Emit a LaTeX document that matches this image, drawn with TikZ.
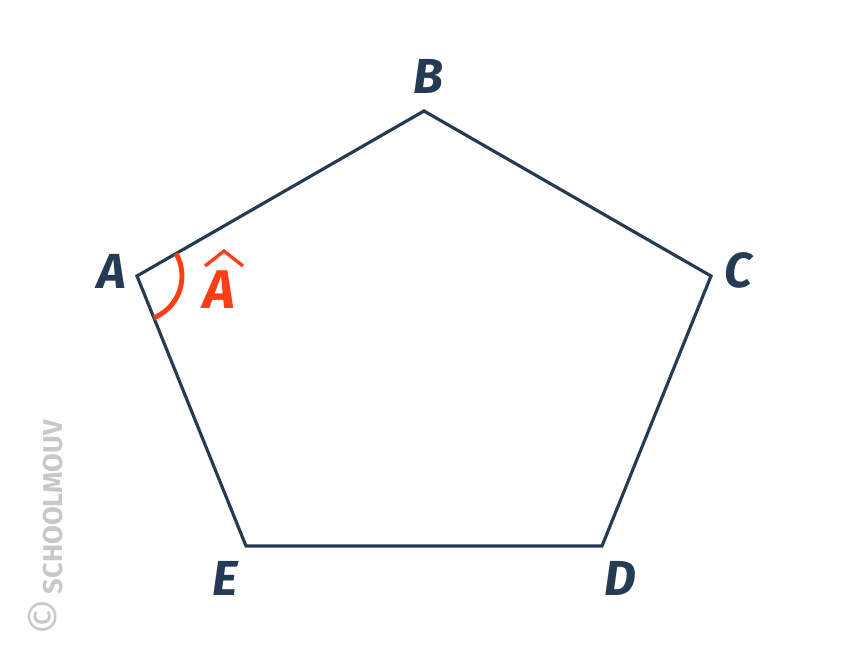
\documentclass[tikz,border=0pt]{standalone}
\usepackage{fontspec}
\setmainfont{Fira Sans}
\definecolor{navy}{HTML}{243B53}
\definecolor{anglered}{HTML}{FF3D17}
\definecolor{markgray}{HTML}{C8C8C8}
\tikzset{
	side/.style={draw=navy, line width=1.8pt, line join=miter},
	vlabel/.style={text=navy, font=\fontsize{28}{32}\selectfont\bfseries\itshape, inner sep=0pt},
	anglearc/.style={draw=anglered, line width=2.8pt},
	anglelabel/.style={text=anglered, font=\fontsize{31}{34}\selectfont\bfseries\itshape, inner sep=0pt},
	hatline/.style={draw=anglered, line width=1.9pt, line join=miter},
	watermark/.style={text=markgray, font=\fontsize{15.5}{18}\selectfont\bfseries, rotate=90, inner sep=0pt}
}
\begin{document}
\begin{tikzpicture}[x=0.02cm, y=0.02cm]
		\useasboundingbox ( 0, 0 ) rectangle ( 860, 660 );

		% sommets du pentagone
		\coordinate (A) at ( 137, 384 );
		\coordinate (B) at ( 424, 549 );
		\coordinate (C) at ( 711, 384 );
		\coordinate (D) at ( 602, 114 );
		\coordinate (E) at ( 246, 114 );

		% pentagone
		\draw [side] (A) -- (B) -- (C) -- (D) -- (E) -- cycle;

		% noms des sommets
		\node [vlabel] (labA) at ( 112, 389 ) {A};
		\node [vlabel] (labB) at ( 428, 584 ) {B};
		\node [vlabel] (labC) at ( 738, 390 ) {C};
		\node [vlabel] (labD) at ( 620, 82 ) {D};
		\node [vlabel] (labE) at ( 225, 82 ) {E};

		% angle en A
		\draw [anglearc] ([shift={(30:45)}]A) arc [start angle=30, end angle=-68, radius=45];
		\node [anglelabel] (angA) at ( 219, 370 ) {A};
		\draw [hatline] ([shift={(-14,24)}]angA.center) -- ([shift={(5,39)}]angA.center) -- ([shift={(24,24)}]angA.center);

		% filigrane
		\node [watermark] (mark) at ( 46, 132 ) {{\fontsize{26}{26}\selectfont\mdseries ©}\,SCHOOLMOUV};
	\end{tikzpicture}
\end{document}
